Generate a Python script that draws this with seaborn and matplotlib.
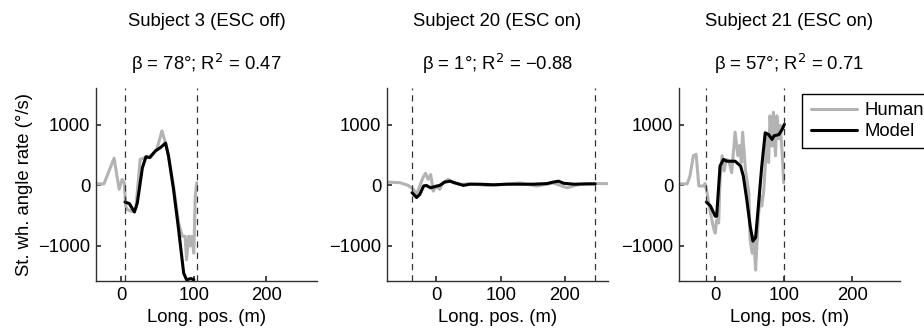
import numpy as np
import pandas as pd
import matplotlib
matplotlib.use("Agg")
import matplotlib.pyplot as plt
import seaborn as sns

sns.set_theme(style="ticks")
plt.rcParams['font.family'] = ['Liberation Sans', 'DejaVu Sans']
plt.rcParams['text.color'] = 'black'
plt.rcParams['axes.labelcolor'] = 'black'

titles = ["Subject 3 (ESC off)", "Subject 20 (ESC on)", "Subject 21 (ESC on)"]
subtitles = ["β = 78°; R$^2$ = 0.47", "β = 1°; R$^2$ = −0.88", "β = 57°; R$^2$ = 0.71"]

# Subject 3
h1_x = [-35, -24, -15, -10, -6, -3, 1, 4, 6, 8, 15, 20, 26, 33, 40, 49, 56, 58, 61, 65, 72, 79, 84, 88, 90, 93, 95, 97, 100, 102, 104]
h1_y = [25, 25, 300, 450, 150, -65, 100, 40, -340, -400, -430, -380, 430, 460, 460, 600, 900, 820, 700, 490, -10, -620, -840, -840, -1230, -840, -1000, -840, -1120, -180, 45]
m1_x = [5, 11, 18, 22, 29, 34, 39, 47, 54, 61, 65, 72, 79, 86, 90, 96, 100]
m1_y = [-275, -300, -440, -290, 290, 475, 460, 570, 625, 700, 490, -65, -730, -1450, -1560, -1540, -1560]
v1 = [5, 105]

# Subject 20
h2_x = [-77, -57, -44, -36, -31, -26, -21, -17, -13, -9, -5, 0, 5, 10, 18, 26, 36, 52, 78, 104, 130, 156, 182, 203, 224, 245, 267]
h2_y = [55, 45, 0, -65, -150, -10, 130, 200, 100, 180, -95, -10, -65, 45, 100, 45, 17, 25, 0, 15, 40, -10, 40, -40, 20, 30, 30]
m2_x = [-38, -31, -26, -20, -16, -9, -3, 5, 13, 21, 31, 42, 52, 68, 89, 109, 130, 151, 172, 182, 190, 198, 214, 235, 247]
m2_y = [-120, -200, -150, -10, 0, -40, -20, 0, 55, 70, 35, 0, 20, 20, 10, 20, 20, 20, 30, 55, 70, 35, 20, 25, 25]
v2 = [-38, 247]

# Subject 21
h3_x = [-53, -41, -37, -32, -28, -24, -17, -15, -12, -7, -2, 0, 2, 5, 7, 10, 13, 16, 20, 24, 29, 33, 36, 38, 40, 44, 49, 51, 54, 56, 59, 61, 63, 66, 68, 71, 73, 76, 78, 80, 83, 85, 88, 90, 93, 95, 98, 100]
h3_y = [25, 25, 155, 490, 515, -10, -10, 30, -120, -460, -730, -790, -570, -620, 100, 490, 240, 430, 400, 210, 880, 490, 660, 380, 880, 270, -120, -900, -1120, -840, -1400, -950, -510, -180, -340, -70, 320, 820, 380, 1150, 650, 1210, 490, 1150, 770, 990, 490, 45]
m3_x = [-13, -7, 0, 2, 7, 12, 17, 22, 29, 37, 41, 46, 51, 55, 59, 63, 68, 73, 78, 83, 86, 93, 98, 101]
m3_y = [-275, -340, -510, -510, 320, 430, 400, 400, 400, 320, 155, -230, -670, -920, -860, -340, 320, 870, 840, 760, 820, 840, 930, 1010]
v3 = [-13, 101]

humans = [(h1_x, h1_y), (h2_x, h2_y), (h3_x, h3_y)]
models = [(m1_x, m1_y), (m2_x, m2_y), (m3_x, m3_y)]
vlines = [v1, v2, v3]
xlims = [(-35, 270), (-77, 267), (-53, 270)]
ylim = (-1580, 1610)

W, H = 924, 332
FS = 13.3
fig = plt.figure(figsize=(W / 100, H / 100), dpi=100)
lefts = [96, 387, 679]
axw = 221
top, bottom = 88, 281
grey_axis = '#303030'

for i in range(3):
    ax = fig.add_axes([lefts[i] / W, (H - bottom) / H, axw / W, (bottom - top) / H])
    hdf = pd.DataFrame({'x': humans[i][0], 'y': humans[i][1]})
    mdf = pd.DataFrame({'x': models[i][0], 'y': models[i][1]})
    sns.lineplot(data=hdf, x='x', y='y', ax=ax, color='#b3b3b3', lw=2.2, label='Human', sort=False)
    sns.lineplot(data=mdf, x='x', y='y', ax=ax, color='black', lw=2.2, label='Model', sort=False)
    for v in vlines[i]:
        ax.axvline(v, color='#333333', lw=0.9, ls=(0, (5, 4)))
    ax.set_xlim(*xlims[i])
    ax.set_ylim(*ylim)
    ax.set_xticks([0, 100, 200])
    ax.set_yticks([-1000, 0, 1000])
    ax.set_yticklabels(['−1000', '0', '1000'])
    ax.set_xlabel('Long. pos. (m)', fontsize=FS, labelpad=4)
    ax.set_ylabel('St. wh. angle rate (°/s)' if i == 0 else '', fontsize=FS, labelpad=4)
    ax.tick_params(direction='in', length=3.5, labelsize=FS, colors=grey_axis, labelcolor='black', pad=4)
    for s in ['top', 'right']:
        ax.spines[s].set_visible(False)
    for s in ['left', 'bottom']:
        ax.spines[s].set_color(grey_axis)
        ax.spines[s].set_linewidth(1.0)
    cx = (lefts[i] + axw / 2) / W
    fig.text(cx, 1 - 21 / H, titles[i], ha='center', va='center', fontsize=FS)
    fig.text(cx, 1 - 64 / H, subtitles[i], ha='center', va='center', fontsize=FS)
    if i == 2:
        leg = ax.legend(loc='upper left', bbox_to_anchor=(0.558, 0.969), frameon=True,
                        fontsize=FS, handlelength=2.5, borderpad=0.45, labelspacing=0.2,
                        handletextpad=0.4, borderaxespad=0, fancybox=False)
        leg.get_frame().set_edgecolor('black')
        leg.get_frame().set_linewidth(1.0)
        leg.get_frame().set_alpha(1)
    else:
        ax.get_legend().remove()

fig.savefig('out.png', dpi=100)
